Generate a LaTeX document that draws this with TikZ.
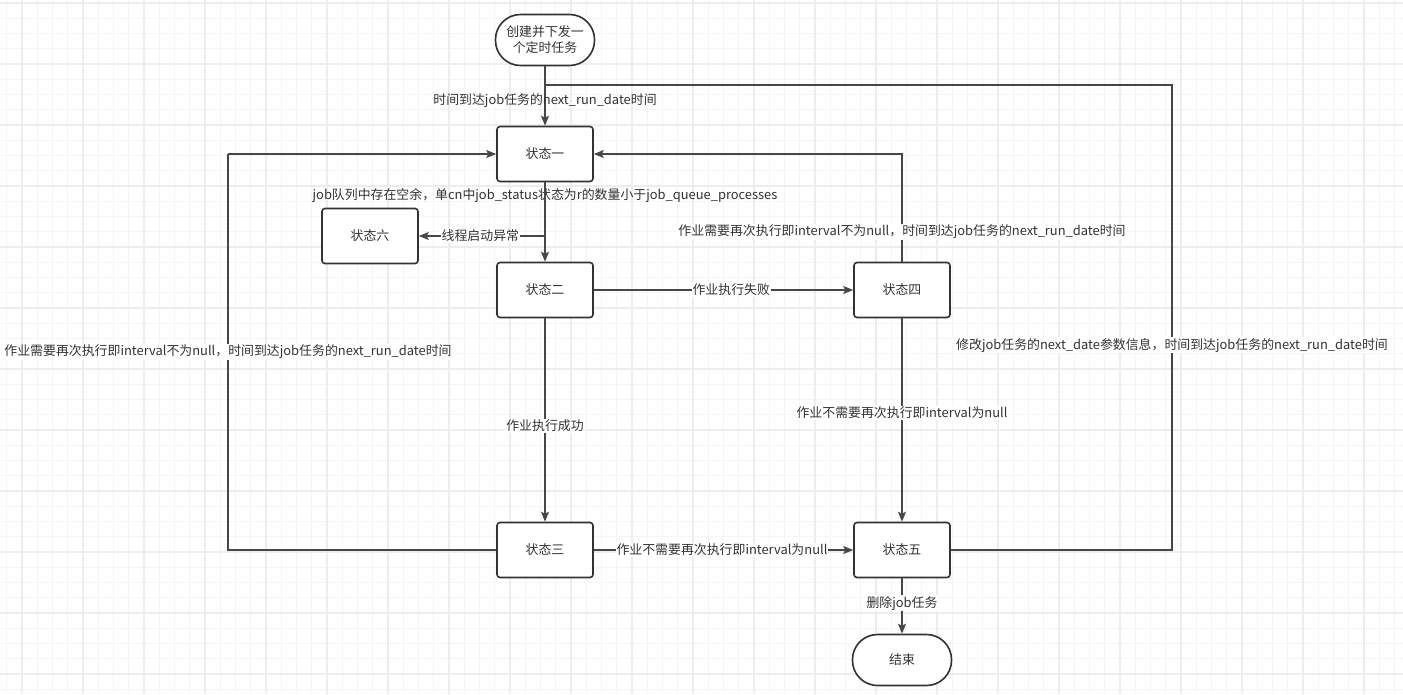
\documentclass[tikz,border=0pt]{standalone}
\usepackage{fontspec}
\setmainfont{Noto Sans CJK SC}
\usetikzlibrary{arrows.meta}
\definecolor{linegray}{HTML}{474747}
\definecolor{textgray}{HTML}{333333}
\definecolor{gridminor}{HTML}{F5F5F5}
\definecolor{gridmajor}{HTML}{EDEDED}
\tikzset{
  state/.style={draw=textgray, line width=1.6pt, fill=white, rounded corners=3pt,
    minimum width=96pt, minimum height=55pt, text=textgray},
  term/.style={draw=textgray, line width=1.6pt, fill=white, rounded corners=25pt,
    minimum width=99pt, minimum height=51pt, align=center, text=textgray},
  conn/.style={draw=linegray, line width=1.3pt},
  arr/.style={conn, -{Stealth[length=10pt,width=8pt,inset=2pt]}},
  lbl/.style={fill=white, inner sep=1pt, text=textgray},
  bare/.style={inner sep=1pt, text=textgray}
}

\begin{document}
\begin{tikzpicture}[x=1pt,y=-1pt,font=\fontsize{12.9}{16}\selectfont]
% background and grid
\fill[white] (0,0) rectangle (1403,694);
\useasboundingbox (0,0) rectangle (1403,694);
\foreach \k in {0,...,91}
  \draw[gridminor,line width=1pt] ({6.75+15.25*\k},0) -- ++(0,694);
\foreach \k in {0,...,45}
  \draw[gridminor,line width=1pt] (0,{3+15.25*\k}) -- ++(1403,0);
\foreach \k in {0,...,22}
  \draw[gridmajor,line width=1.3pt] ({22+61*\k},0) -- ++(0,694);
\foreach \k in {0,...,11}
  \draw[gridmajor,line width=1.3pt] (0,{3+61*\k}) -- ++(1403,0);
% draw nodes
\node[term] (start) at (545,40) {创建并下发一\\个定时任务};
\node[state] (s1) at (545,154) {状态一};
\node[state] (s6) at (370,236) {状态六};
\node[state] (s2) at (545,290) {状态二};
\node[state] (s4) at (902,290) {状态四};
\node[state] (s3) at (545,550) {状态三};
\node[state] (s5) at (902,550) {状态五};
\node[term] (end) at (902,660) {结束};
\coordinate (loopR) at (1172,85);
\coordinate (join) at (545,85);
\coordinate (loopL) at (228,154);
% straight connectors
\draw[arr] (start) -- node[bare,pos=0.57] {时间到达job任务的next\_run\_date时间} (s1);
\draw[arr] (s1) -- node[bare,pos=0.17] {job队列中存在空余，单cn中job\_status状态为r的数量小于job\_queue\_processes} (s2);
\draw[arr] (s1.south) |- node[lbl,pos=0.756] {线程启动异常} (s6.east);
\draw[arr] (s2) -- node[lbl,pos=0.53] {作业执行失败} (s4);
\draw[arr] (s2) -- node[lbl,pos=0.53] {作业执行成功} (s3);
\draw[arr] (s3) -- node[lbl,pos=0.494] {作业不需要再次执行即interval为null} (s5);
\draw[arr] (s4) -- node[lbl,pos=0.466] {作业不需要再次执行即interval为null} (s5);
\draw[arr] (s5) -- node[lbl,pos=0.45] {删除job任务} (end);
% loop connectors
\draw[conn] (s3.west) -| node[lbl,pos=0.75] {作业需要再次执行即interval不为null，时间到达job任务的next\_run\_date时间} (loopL);
\draw[arr] (loopL) -- (s1.west);
\draw[arr] (s4.north) |- node[lbl,pos=0.1376] {作业需要再次执行即interval不为null，时间到达job任务的next\_run\_date时间} (s1.east);
\draw[conn] (s5.east) -| node[lbl,pos=0.72] {修改job任务的next\_date参数信息，时间到达job任务的next\_run\_date时间} (loopR) -- (join);
\end{tikzpicture}
\end{document}
